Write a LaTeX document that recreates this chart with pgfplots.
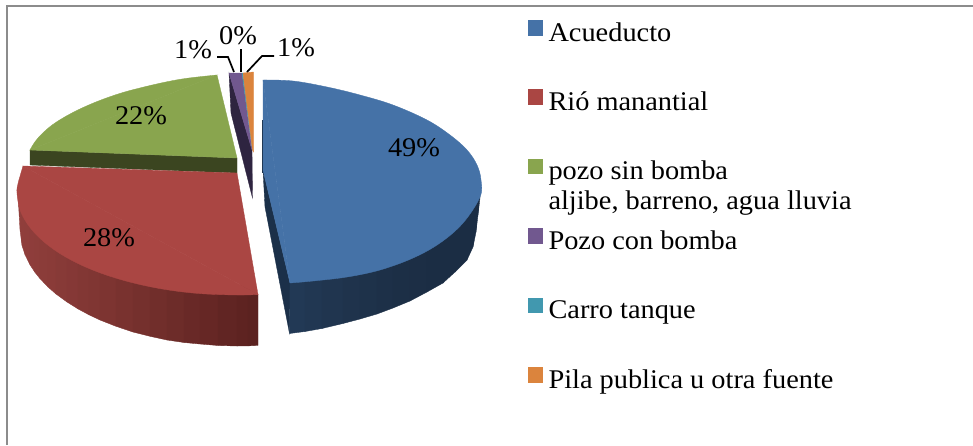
\documentclass[border=0pt]{standalone}
\usepackage{fontspec}
\setmainfont[FakeStretch=1.05]{Liberation Serif}
\usepackage{pgfplots}
\pgfplotsset{compat=1.18}
\newcommand\poly[4]{\addplot[forget plot,fill={rgb,255:red,#1;green,#2;blue,#3},draw={rgb,255:red,#1;green,#2;blue,#3},line width=.35pt] coordinates {#4} --cycle;}
\newcommand\arc[4]{\addplot[forget plot,smooth,tension=0.6,fill={rgb,255:red,#1;green,#2;blue,#3},draw={rgb,255:red,#1;green,#2;blue,#3},line width=.35pt] coordinates {#4} --cycle;}
\definecolor{cBlue}{RGB}{69,114,167}
\definecolor{cRed}{RGB}{170,70,67}
\definecolor{cGreen}{RGB}{137,165,78}
\definecolor{cPurple}{RGB}{113,88,143}
\definecolor{cTeal}{RGB}{65,152,175}
\definecolor{cOrange}{RGB}{219,132,61}
\newcommand\lbl[2]{\node[font=\fontsize{27}{30}\selectfont,inner sep=0pt] at (axis cs:#1) {#2};}
\begin{document}
\begin{tikzpicture}
\useasboundingbox (0,0) rectangle (973pt,445pt);
\begin{axis}[
  at={(0,0)},anchor=south west,
  scale only axis,width=973pt,height=445pt,
  xmin=0,xmax=973,ymin=0,ymax=445,y dir=reverse,hide axis,
  legend cell align=left,
  legend image code/.code={\fill[#1,draw=none] (0pt,-0.5pt) rectangle (15pt,15pt);},
  legend style={at={(axis cs:528,20)},anchor=north west,draw=none,fill=none,
    inner sep=0pt,outer sep=0pt,row sep=41.4pt,
    font=\fontsize{27}{30}\selectfont,
    /tikz/every odd column/.append style={column sep=5.5pt},
    nodes={inner sep=0pt,text height=19pt,text depth=7pt}},
]
\addlegendimage{fill=cBlue}\addlegendentry{Acueducto}
\addlegendimage{fill=cRed}\addlegendentry{Rió manantial}
\addlegendimage{fill=cGreen}\addlegendentry{\vtop to 0pt{\hbox{pozo sin bomba}\hbox{aljibe, barreno, agua lluvia}\vss}}
\addlegendimage{fill=cPurple}\addlegendentry{Pozo con bomba}
\addlegendimage{fill=cTeal}\addlegendentry{Carro tanque}
\addlegendimage{fill=cOrange}\addlegendentry{Pila publica u otra fuente}
% frame
\addplot[forget plot,color={rgb,255:red,140;green,140;blue,140},line width=2.2pt] coordinates {(7,445)(7,6)(973,6)};
% green
\poly{59}{69}{32}{(30,150)(30,165)(237,173)(237,158)}
\arc{137}{165}{78}{(217,75)(182,79)(148,86)(115,95)(82,108)(55,123)(38,138)(30,150)}
\poly{137}{165}{78}{(217,75)(30,150)(237,158)}
% purple, teal, orange
\poly{46}{36}{64}{(229,73)(252,150)(252.5,198)(231,113)}
\poly{113}{88}{143}{(229,73)(242,73)(252,150)}
\poly{65}{152}{175}{(242,73)(243,73)(252.5,150)}
\poly{219}{132}{61}{(243,73)(253.5,72)(253.5,152)(252.5,150)}
% blue side
\poly{27}{48}{73}{(262.6,120)(263.5,120)(263.5,172)(262.6,172)}
\poly{27}{48}{73}{(263,170)(290,283)(289.5,333.5)(265,207)}
\poly{34}{57}{85}{(290,282)(305,270)(305,331.5)(289.5,333.5)}
\poly{33}{55}{82}{(305,270)(322,270)(322,328.5)(305,331.5)}
\poly{32}{53}{79}{(322,270)(343,265)(343,323.5)(322,328.5)}
\poly{31}{51}{76}{(343,265)(360,260)(360,319)(343,323.5)}
\poly{30}{50}{74}{(360,260)(377,260)(377,314)(360,319)}
\poly{29}{48}{72}{(377,260)(393,255)(393,308)(377,314)}
\poly{28}{47}{70}{(393,255)(410,250)(410,301)(393,308)}
\poly{28}{46}{69}{(410,250)(427,240)(427,292)(410,301)}
\poly{27}{45}{68}{(427,240)(443,230)(443,283)(427,292)}
\poly{27}{45}{68}{(443,230)(455,220)(455,272)(443,283)}
\poly{27}{45}{68}{(455,220)(467,200)(467,260)(455,272)}
\poly{27}{45}{68}{(467,200)(473,190)(473,247)(467,260)}
\poly{27}{45}{68}{(473,190)(476,185)(476,232)(473,247)}
\poly{27}{45}{68}{(476,185)(478,183)(478,215)(476,232)}
\poly{27}{45}{68}{(478,183)(480,183)(480,198)(478,215)}
% blue top
\arc{69}{114}{167}{(263,80)(293,81)(327,87)(360,95)(393,105)(427,120)(450,135)(467,150)(477,165)(481,180)(480,197)(463,223)(440,243)(413,258)(380,270)(347,277)(313,281)(290,283)}
\poly{69}{114}{167}{(263,80)(263,170)(290,283)}
% red side
\poly{144}{63}{60}{(18,195)(20,195)(22,205)(22,245.5)(20,230)}
\poly{144}{62}{59}{(22,205)(25,210)(25,254.7)(22,245.5)}
\poly{143}{62}{59}{(25,210)(30,215)(30,264.8)(25,254.7)}
\poly{142}{61}{59}{(30,215)(35,225)(35,272.4)(30,264.8)}
\poly{141}{61}{58}{(35,225)(40,230)(40,278.6)(35,272.4)}
\poly{139}{60}{57}{(40,230)(48,240)(48,287)(40,278.6)}
\poly{138}{59}{56}{(48,240)(56,245)(56,294)(48,287)}
\poly{135}{58}{55}{(56,245)(67,250)(67,302)(56,294)}
\poly{133}{56}{54}{(67,250)(78,258)(78,308.9)(67,302)}
\poly{130}{55}{52}{(78,258)(89,260)(89,314.8)(78,308.9)}
\poly{128}{54}{51}{(89,260)(100,265)(100,320)(89,314.8)}
\poly{125}{52}{49}{(100,265)(116,270)(116,326.3)(100,320)}
\poly{121}{50}{47}{(116,270)(133,275)(133,332)(116,326.3)}
\poly{117}{48}{45}{(133,275)(150,280)(150,336.3)(133,332)}
\poly{113}{46}{43}{(150,280)(167,280)(167,340)(150,336.3)}
\poly{109}{44}{41}{(167,280)(184,285)(184,342.5)(167,340)}
\poly{105}{41}{39}{(184,285)(200,285)(200,344)(184,342.5)}
\poly{102}{39}{37}{(200,285)(218,285)(218,345.5)(200,344)}
\poly{97}{37}{35}{(218,285)(237,285)(237,346)(218,345.5)}
\poly{94}{35}{33}{(237,285)(248,285)(248,345.9)(237,346)}
\poly{91}{34}{32}{(248,285)(258,294.5)(258,345.4)(248,345.9)}
% red top
\arc{170}{70}{67}{(23,166)(20.3,175.3)(17.9,184.1)(17,193)(20.3,210.7)(30.3,227.9)(46.5,244)(68.5,258.6)(95.5,271.1)(127,281.3)(161.8,288.9)(198.7,293.5)(237,295)(258,294.5)}
\poly{170}{70}{67}{(23,166)(258,294.5)(237,173)}
% leader lines
\addplot[forget plot,black,line width=1.7pt] coordinates {(217,57)(228,57)(234,72)};
\addplot[forget plot,black,line width=1.7pt] coordinates {(241,49)(241,72)};
\addplot[forget plot,black,line width=1.7pt] coordinates {(274,56)(262,56)(247,72)};
% labels
\lbl{193,50}{1\%}
\lbl{238,36}{0\%}
\lbl{296,48}{1\%}
\lbl{141,116}{22\%}
\lbl{109,238}{28\%}
\lbl{414,148}{49\%}
\end{axis}
\end{tikzpicture}
\end{document}
